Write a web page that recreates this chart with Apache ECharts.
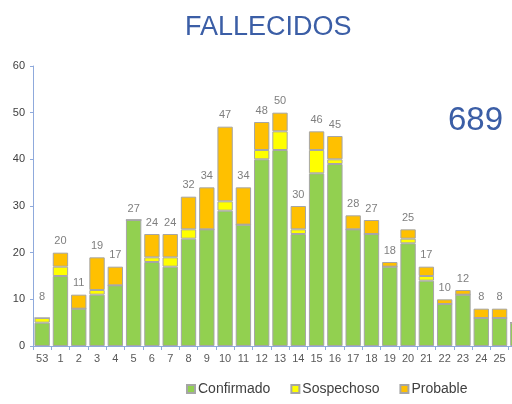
<!DOCTYPE html>
<html>
<head>
<meta charset="utf-8">
<script src="https://cdn.jsdelivr.net/npm/echarts@6/dist/echarts.min.js"></script>
<style>
  html, body { margin: 0; padding: 0; background: #fff; }
  #main { width: 512px; height: 404px; }
</style>
</head>
<body>
<div id="main"></div>
<script>
  // semanas epidemiologicas
  var semanas = ['53','1','2','3','4','5','6','7','8','9','10','11','12','13','14','15','16','17','18','19','20','21','22','23','24','25','26']
  var confirmado = [5,15,8,11,13,27,18,17,23,25,29,26,40,42,24,37,39,25,24,17,22,14,9,11,6,6,5]
  var sospechoso = [1,2,0,1,0,0,1,2,2,0,2,0,2,4,1,5,1,0,0,0,1,1,0,0,0,0,0]
  var probable   = [0,3,3,7,4,0,5,5,7,9,16,8,6,4,5,4,5,3,3,1,2,2,1,1,2,2,0]
  // etiquetas de total que aparecen arriba de cada barra
  var totales    = [8,20,11,19,17,27,24,24,32,34,47,34,48,50,30,46,45,28,27,18,25,17,10,12,8,8,null]
  var totalGeneral = '689'

  var borde = '#a6a6a6'
  var myChart = echarts.init(document.getElementById('main'))
  myChart.setOption({
    animation: false,
    title: [
      {
        text: 'FALLECIDOS',
        left: 180,
        top: 9,
        textStyle: { fontFamily: 'Liberation Sans', fontSize: 27, fontWeight: 'normal', color: '#3b5ea6' }
      },
      {
        text: totalGeneral,
        left: 443,
        top: 99,
        textStyle: { fontFamily: 'Liberation Sans', fontSize: 33, fontWeight: 'normal', color: '#3b5ea6' }
      }
    ],
    legend: {
      data: ['Confirmado', 'Sospechoso', 'Probable'],
      left: 181,
      top: 377,
      itemWidth: 8,
      itemHeight: 8,
      itemGap: 20,
      icon: 'rect',
      textStyle: { fontFamily: 'Liberation Sans', fontSize: 14, color: '#404040', padding: [0, 0, 0, -2] }
    },
    grid: {
      left: 33,
      right: -15,
      top: 66,
      bottom: 58,
      outerBoundsMode: 'none'
    },
    xAxis: {
      type: 'category',
      data: semanas,
      axisLine: { lineStyle: { color: '#8faadc', width: 1 } },
      axisTick: { show: true, length: 4, lineStyle: { color: '#8faadc' } },
      axisLabel: { fontFamily: 'Liberation Sans', fontSize: 11, color: '#595959', margin: 7, interval: 0 }
    },
    yAxis: {
      type: 'value',
      min: 0,
      max: 60,
      interval: 10,
      splitLine: { show: false },
      axisLine: { show: true, lineStyle: { color: '#8faadc', width: 1 } },
      axisTick: { show: true, length: 3, lineStyle: { color: '#8faadc' } },
      axisLabel: { fontFamily: 'Liberation Sans', fontSize: 11, color: '#404040', margin: 8 }
    },
    series: [
      {
        name: 'Confirmado',
        type: 'bar',
        stack: 'total',
        barCategoryGap: '16%',
        itemStyle: { color: '#92d050', borderColor: borde, borderWidth: 1 },
        data: confirmado
      },
      {
        name: 'Sospechoso',
        type: 'bar',
        stack: 'total',
        itemStyle: { color: '#ffff00', borderColor: borde, borderWidth: 1 },
        data: sospechoso
      },
      {
        name: 'Probable',
        type: 'bar',
        stack: 'total',
        itemStyle: { color: '#ffc000', borderColor: borde, borderWidth: 1 },
        data: probable
      },
      {
        name: 'etiquetas',
        type: 'bar',
        barGap: '-100%',
        barCategoryGap: '16%',
        silent: true,
        itemStyle: { color: 'rgba(0,0,0,0)' },
        label: {
          show: true,
          position: 'top',
          distance: 6,
          fontFamily: 'Liberation Sans',
          fontSize: 11,
          color: '#7f7f7f'
        },
        data: totales
      }
    ]
  })
</script>
</body>
</html>
